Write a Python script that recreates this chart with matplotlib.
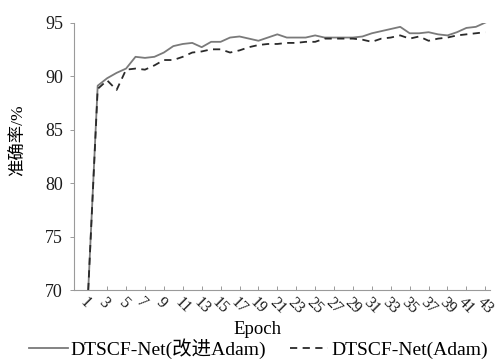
import numpy as np
import matplotlib
matplotlib.use("Agg")
import matplotlib.pyplot as plt

plt.rcParams['font.family'] = ['Liberation Serif', 'Noto Sans CJK SC']

epochs = list(range(1, 44))

acc_improved = [70.0, 89.1, 89.8, 90.3, 90.7, 91.8, 91.7, 91.8, 92.2, 92.8,
                93.0, 93.1, 92.7, 93.2, 93.2, 93.6, 93.7, 93.5, 93.3, 93.6,
                93.9, 93.6, 93.6, 93.6, 93.8, 93.6, 93.6, 93.6, 93.6, 93.7,
                94.0, 94.2, 94.4, 94.6, 94.0, 94.0, 94.1, 93.9, 93.8, 94.1,
                94.5, 94.6, 95.0]

acc_adam = [70.0, 88.8, 89.6, 88.7, 90.6, 90.7, 90.6, 91.0, 91.5, 91.5,
            91.8, 92.2, 92.3, 92.5, 92.5, 92.2, 92.4, 92.7, 92.9, 93.0,
            93.0, 93.1, 93.1, 93.2, 93.2, 93.5, 93.5, 93.5, 93.5, 93.4,
            93.2, 93.5, 93.6, 93.8, 93.5, 93.7, 93.3, 93.5, 93.6, 93.8,
            93.9, 94.0, 94.1]

xtick_labels = [str(e) for e in range(1, 44, 2)]
yticks = [70, 75, 80, 85, 90, 95]

fig = plt.figure(figsize=(4.97, 3.64), dpi=100)
ax = fig.add_axes([0.149, 0.203, 0.837, 0.735])

ax.plot(epochs, acc_improved, color='#7a7a7a', linewidth=1.3, linestyle='-',
        label='DTSCF-Net(改进Adam)')
ax.plot(epochs, acc_adam, color='#2a2a2a', linewidth=1.3, linestyle=(0, (4, 3)),
        label='DTSCF-Net(Adam)')

ax.set_xlim(-0.5, 43.5)
ax.set_ylim(70, 95)
ax.set_yticks(yticks)
ax.set_xticks(range(1, 44, 2))
ax.set_xticklabels(xtick_labels, rotation=-45, ha='left', va='top',
                   rotation_mode='anchor', fontsize=11.5)

for side in ['top', 'right']:
    ax.spines[side].set_visible(False)
for side in ['left', 'bottom']:
    ax.spines[side].set_color('#9a9a9a')
    ax.spines[side].set_linewidth(0.8)

ax.tick_params(axis='both', colors='#9a9a9a', labelcolor='#1a1a1a',
               length=3, width=0.7)
ax.tick_params(axis='y', pad=5, labelsize=13)
ax.tick_params(axis='x', direction='in', pad=3)

ax.set_xlabel('Epoch', fontsize=13.5)
ax.xaxis.set_label_coords(0.44, -0.115)
ax.set_ylabel('准确率/%', fontsize=12.5)
ax.yaxis.set_label_coords(-0.113, 0.56)

fig.legend(loc='lower center', bbox_to_anchor=(0.52, -0.035), ncol=2,
           frameon=False, fontsize=14, handlelength=2.0, handletextpad=0.15,
           columnspacing=1.2)

fig.savefig('out.png', dpi=100)
